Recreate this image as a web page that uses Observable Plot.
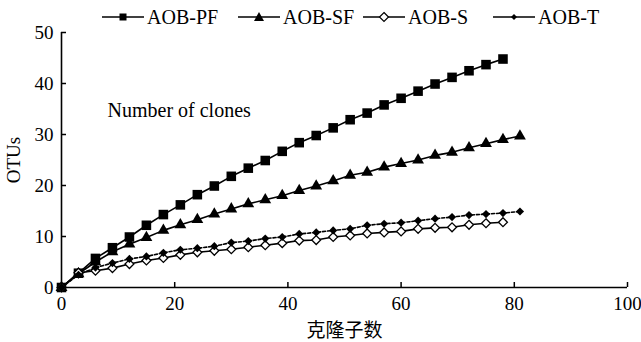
<!DOCTYPE html>
<html><head><meta charset="utf-8">
<script src="https://cdn.jsdelivr.net/npm/d3@7"></script>
<script src="https://cdn.jsdelivr.net/npm/@observablehq/plot@0.6"></script>
<style>
body{margin:0;background:#fff;font-family:"Liberation Serif","Times New Roman","Noto Sans CJK SC",serif;}
#wrap{position:relative;width:641px;height:342px;overflow:hidden;}
#legend{position:relative;height:22px;}
.item{position:absolute;top:6px;height:22px;display:flex;align-items:center;font-size:20px;line-height:22px;color:#000;white-space:nowrap;font-family:"Liberation Serif","Times New Roman",serif;}
.item svg{margin-right:3px;}
</style></head><body>
<div id="wrap"><div id="legend"></div><div id="chart"></div></div>
<script>
// ---- data ----
const seriesNames = ["AOB-PF", "AOB-SF", "AOB-S", "AOB-T"];
const clonesPF = [0,3,6,9,12,15,18,21,24,27,30,33,36,39,42,45,48,51,54,57,60,63,66,69,72,75,78];
const otusPF   = [0,2.8,5.7,7.8,9.9,12.2,14.3,16.2,18.2,19.9,21.8,23.4,24.9,26.7,28.4,29.8,31.3,32.9,34.2,35.8,37.1,38.5,39.9,41.2,42.5,43.7,44.8];
const clonesSF = [0,3,6,9,12,15,18,21,24,27,30,33,36,39,42,45,48,51,54,57,60,63,66,69,72,75,78,81];
const otusSF   = [0,2.7,5.0,7.0,8.5,9.8,11.2,12.3,13.3,14.4,15.4,16.4,17.2,18.0,19.0,19.9,20.9,22.0,22.6,23.6,24.3,25.0,25.9,26.5,27.4,28.2,29.0,29.7];
const clonesS  = [0,3,6,9,12,15,18,21,24,27,30,33,36,39,42,45,48,51,54,57,60,63,66,69,72,75,78];
const otusS    = [0,2.9,3.3,3.8,4.6,5.3,5.8,6.4,6.9,7.2,7.5,7.9,8.3,8.7,9.2,9.3,9.9,10.2,10.6,10.8,11.0,11.5,11.7,11.8,12.3,12.6,12.8];
const clonesT  = [0,3,6,9,12,15,18,21,24,27,30,33,36,39,42,45,48,51,54,57,60,63,66,69,72,75,78,81];
const otusT    = [0,2.5,3.9,4.8,5.6,6.1,6.8,7.4,7.7,8.1,8.8,9.1,9.6,9.9,10.5,10.8,11.2,11.5,12.2,12.5,12.7,13.1,13.5,13.8,14.2,14.4,14.6,14.9];
const xTicks = [0,20,40,60,80,100];
const yTicks = [0,10,20,30,40,50];
const xLabel = "克隆子数";
const yLabel = "OTUs";
const note = "Number of clones";

const toRows = (xs, ys, name) => xs.map((x, i) => ({series: name, x, y: ys[i]}));
const pf = toRows(clonesPF, otusPF, seriesNames[0]);
const sf = toRows(clonesSF, otusSF, seriesNames[1]);
const s  = toRows(clonesS,  otusS,  seriesNames[2]);
const t  = toRows(clonesT,  otusT,  seriesNames[3]);

// ---- legend ----
const swatches = [
  {left:102, marker:'<rect x="17.5" y="4.5" width="7" height="7" fill="#000"/>'},
  {left:238, marker:'<path d="M21 3 L26 12 L16 12 Z" fill="#000"/>'},
  {left:363, marker:'<path d="M21 3.5 L25.5 8 L21 12.5 L16.5 8 Z" fill="#fff" stroke="#000" stroke-width="1.2"/>'},
  {left:493, marker:'<path d="M21 5 L24 8 L21 11 L18 8 Z" fill="#000"/>'}
];
const legend = document.getElementById("legend");
seriesNames.forEach((name, i) => {
  const sw = swatches[i];
  const div = document.createElement("div");
  div.className = "item";
  div.style.left = sw.left + "px";
  div.innerHTML = `<svg width="42" height="16" viewBox="0 0 42 16"><line x1="0" y1="8" x2="42" y2="8" stroke="#000" stroke-width="1.6"/>${sw.marker}</svg><span>${name}</span>`;
  legend.appendChild(div);
});

// ---- chart ----
const font = '"Liberation Serif","Times New Roman","Noto Sans CJK SC",serif';
const chart = Plot.plot({
  width: 641, height: 320,
  marginTop: 10, marginBottom: 55, marginLeft: 61, marginRight: 14,
  style: {fontFamily: font, fontSize: "19px", background: "white", color: "black", overflow: "visible"},
  x: {domain: [0, 100]},
  y: {domain: [0, 50]},
  marks: [
    Plot.axisX({ticks: xTicks, tickSize: -5, tickPadding: 14, tickFormat: d => d, strokeWidth: 1.5, fill: "black",
      label: xLabel, labelAnchor: "center", labelArrow: "none", labelOffset: 49, fontSize: 19}),
    Plot.axisY({ticks: yTicks, tickSize: -5, tickPadding: 13, tickFormat: d => d, strokeWidth: 1.5, fill: "black",
      label: yLabel, labelAnchor: "center", labelArrow: "none", labelOffset: 55, fontSize: 19}),
    Plot.ruleY([0], {stroke: "black", strokeWidth: 1.6}),
    Plot.ruleX([0], {stroke: "black", strokeWidth: 1.6}),
    Plot.line(pf, {x: "x", y: "y", stroke: "black", strokeWidth: 1.6}),
    Plot.line(sf, {x: "x", y: "y", stroke: "black", strokeWidth: 1.6}),
    Plot.line(s,  {x: "x", y: "y", stroke: "black", strokeWidth: 1.6}),
    Plot.line(t,  {x: "x", y: "y", stroke: "black", strokeWidth: 1.6, strokeDasharray: "3,2"}),
    Plot.dot(pf, {x: "x", y: "y", symbol: "square", r: 5.4, fill: "black"}),
    Plot.dot(sf, {x: "x", y: "y", symbol: "triangle", r: 4.4, fill: "black"}),
    Plot.dot(s,  {x: "x", y: "y", symbol: "diamond2", r: 4.0, fill: "white", stroke: "black", strokeWidth: 1.3}),
    Plot.dot(t,  {x: "x", y: "y", symbol: "diamond2", r: 3.7, fill: "black"}),
    Plot.text([note], {frameAnchor: "top-left", dx: 46, dy: 78, textAnchor: "start", lineAnchor: "middle", fontSize: 20, fill: "black"})
  ]
});
document.getElementById("chart").appendChild(chart);
</script>
</body></html>
